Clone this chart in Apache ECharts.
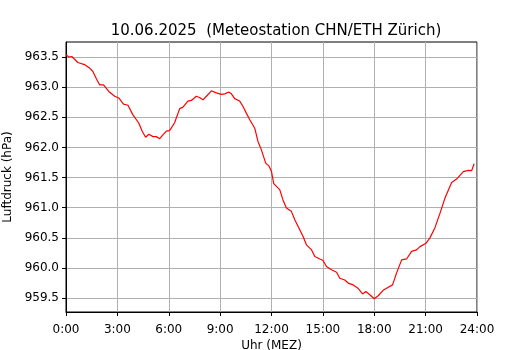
<!DOCTYPE html>
<html><head><meta charset="utf-8">
<script src="https://cdn.jsdelivr.net/npm/echarts@6/dist/echarts.min.js"></script>
<style>html,body{margin:0;padding:0;background:#fff}#c{width:530px;height:350px}</style>
</head><body><div id="c"></div>
<script>
var titleText = '10.06.2025  (Meteostation CHN/ETH Zürich)';
var xTicks = [0, 3, 6, 9, 12, 15, 18, 21, 24];
var yTicks = [959.5, 960.0, 960.5, 961.0, 961.5, 962.0, 962.5, 963.0, 963.5];
// time in hours (MEZ)
var hours = [0.00,0.16,0.34,0.69,1.08,1.37,1.57,1.76,1.96,2.19,2.50,2.84,3.09,3.36,3.62,3.90,4.24,4.45,4.65,4.84,5.08,5.27,5.47,5.66,5.86,6.05,6.34,6.64,6.83,7.12,7.32,7.61,7.80,8.00,8.20,8.49,8.78,9.07,9.27,9.50,9.66,9.85,10.14,10.34,10.53,10.73,11.02,11.21,11.41,11.66,11.86,12.00,12.13,12.48,12.67,12.87,13.16,13.36,13.65,13.85,14.04,14.34,14.53,14.82,15.01,15.21,15.50,15.80,15.99,16.28,16.48,16.77,17.03,17.32,17.51,17.74,18.00,18.23,18.52,18.82,19.07,19.30,19.60,19.89,20.18,20.47,20.67,21.02,21.25,21.54,21.84,22.13,22.52,22.81,23.20,23.49,23.69,23.83];
// air pressure (hPa)
var pressure = [963.54,963.50,963.51,963.41,963.375,963.32,963.26,963.15,963.04,963.04,962.93,962.85,962.82,962.72,962.70,962.545,962.41,962.27,962.17,962.22,962.18,962.18,962.145,962.21,962.27,962.28,962.41,962.645,962.67,962.77,962.78,962.85,962.83,962.79,962.85,962.94,962.905,962.88,962.89,962.92,962.89,962.81,962.77,962.68,962.57,962.46,962.32,962.10,961.96,961.74,961.69,961.60,961.40,961.30,961.13,960.995,960.94,960.80,960.635,960.52,960.385,960.30,960.19,960.15,960.125,960.025,959.97,959.93,959.83,959.80,959.75,959.72,959.67,959.57,959.61,959.555,959.49,959.54,959.63,959.68,959.72,959.915,960.135,960.15,960.275,960.30,960.355,960.41,960.50,960.665,960.91,961.16,961.42,961.475,961.60,961.62,961.615,961.73];

var data = hours.map(function(h, i){ return [h, pressure[i]]; });
var font = 'DejaVu Sans';
var chart = echarts.init(document.getElementById('c'), null, {renderer:'canvas'});
chart.setOption({
  animation: false,
  backgroundColor: '#fff',
  title: {
    text: titleText, left: 271, top: 19, textAlign: 'center',
    textStyle: {fontFamily: font, fontSize: 15, fontWeight: 'normal', color: '#000'}
  },
  grid: {left: 66, right: 53, top: 42, bottom: 38, containLabel: false, outerBoundsMode: 'none',
    show: true, borderColor: '#000', borderWidth: 1, backgroundColor: 'transparent'},
  xAxis: {
    type: 'value', min: 0, max: 24, interval: 3,
    name: 'Uhr (MEZ)', nameLocation: 'middle', nameGap: 28, nameMoveOverlap: false,
    nameTextStyle: {fontFamily: font, fontSize: 12, color: '#000'},
    axisLine: {show: true, onZero: false, lineStyle: {color: '#000', width: 1}},
    axisTick: {show: true, inside: false, length: 4, lineStyle: {color: '#000'}, customValues: xTicks},
    axisLabel: {fontFamily: font, fontSize: 12, color: '#000', margin: 12, customValues: xTicks,
      formatter: function(v){ return Math.round(v) + ':00'; }},
    splitLine: {show: true, lineStyle: {color: '#b0b0b0', width: 1}}
  },
  yAxis: {
    type: 'value', min: 959.27, max: 963.75,
    name: 'Luftdruck (hPa)', nameLocation: 'middle', nameGap: 52, nameRotate: 90, nameMoveOverlap: false,
    nameTextStyle: {fontFamily: font, fontSize: 12, color: '#000'},
    axisLine: {show: true, onZero: false, lineStyle: {color: '#000', width: 1}},
    axisTick: {show: true, inside: false, length: 4, lineStyle: {color: '#000'}, customValues: yTicks},
    axisLabel: {fontFamily: font, fontSize: 12, color: '#000', margin: 7, customValues: yTicks,
      formatter: function(v){ return v.toFixed(1); }},
    splitLine: {show: true, lineStyle: {color: '#b0b0b0', width: 1}}
  },
  series: [{
    type: 'line', data: data, showSymbol: false, symbol: 'none',
    lineStyle: {color: '#ff0000', width: 1.2}, itemStyle: {color: '#ff0000'}
  }]
});
</script></body></html>
